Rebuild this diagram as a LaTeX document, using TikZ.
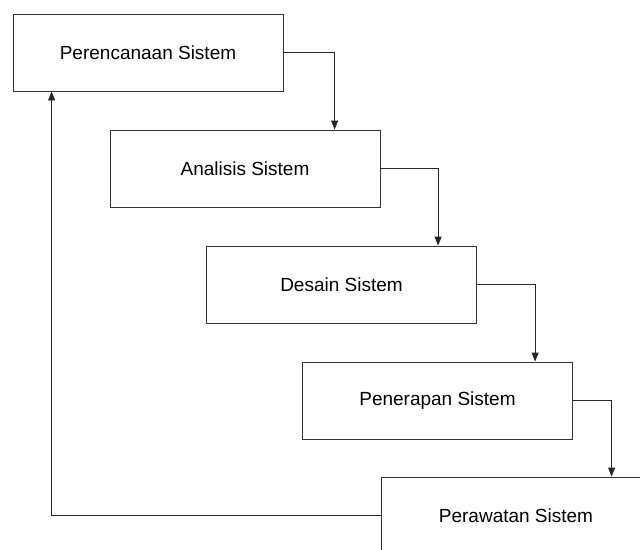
\documentclass[tikz,border=0pt]{standalone}
\usepackage{fontspec}
\setmainfont{Liberation Sans}
\usepackage{tikz}
\usetikzlibrary{arrows.meta}

\begin{document}
\begin{tikzpicture}[x=1pt, y=1pt,
    tahap/.style={draw=black!80, line width=0.8pt, rectangle, minimum width=270pt, minimum height=77pt, inner sep=0pt, font=\fontsize{19}{22}\selectfont},
    alur/.style={draw=black!85, line width=0.8pt, -{Triangle[length=9pt, width=7pt]}}]
            \path[use as bounding box, clip] (0, 0) rectangle (640, -549);
            %
            \node[tahap] (rencana) at (148, -52.5) {Perencanaan Sistem};
            \node[tahap] (analisis) at (245, -168.5) {Analisis Sistem};
            \node[tahap] (desain) at (341.5, -284.5) {Desain Sistem};
            \node[tahap] (terap) at (437.5, -400.5) {Penerapan Sistem};
            \node[tahap] (rawat) at (516, -515.5) {Perawatan Sistem};
            %
            \draw[alur] (rencana.east) -| ([xshift=225pt]analisis.north west);
            \draw[alur] (analisis.east) -| ([xshift=232pt]desain.north west);
            \draw[alur] (desain.east) -| ([xshift=233pt]terap.north west);
            \draw[alur] (terap.east) -| ([xshift=231pt]rawat.north west);
            %
            \draw[alur] (rawat.west) -| ([xshift=39pt]rencana.south west);
        \end{tikzpicture}
\end{document}
